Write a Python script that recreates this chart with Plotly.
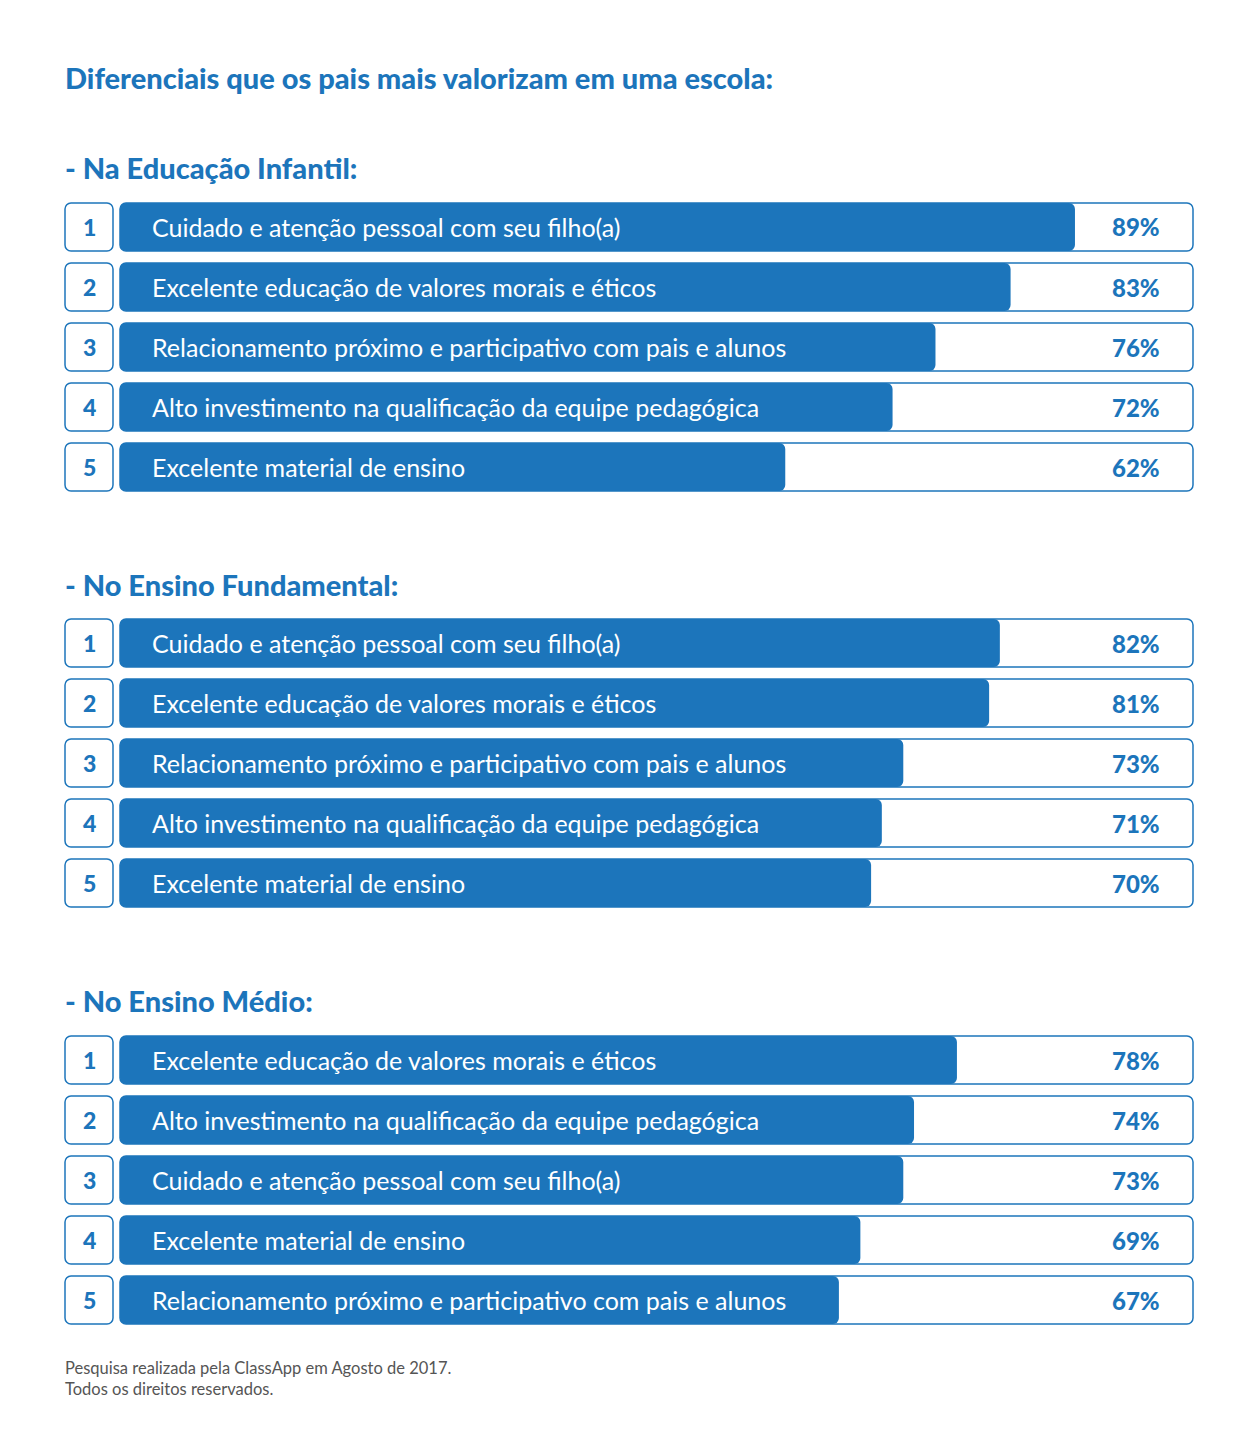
import plotly.graph_objects as go

W, H = 1251, 1449
BLUE = "#1c75bb"

title = "Diferenciais que os pais mais valorizam em uma escola:"
section_titles = ["- Na Educação Infantil:", "- No Ensino Fundamental:", "- No Ensino Médio:"]
ranks = ["1", "2", "3", "4", "5"]

infantil_labels = [
    "Cuidado e atenção pessoal com seu filho(a)",
    "Excelente educação de valores morais e éticos",
    "Relacionamento próximo e participativo com pais e alunos",
    "Alto investimento na qualificação da equipe pedagógica",
    "Excelente material de ensino",
]
infantil_values = [89, 83, 76, 72, 62]

fundamental_labels = [
    "Cuidado e atenção pessoal com seu filho(a)",
    "Excelente educação de valores morais e éticos",
    "Relacionamento próximo e participativo com pais e alunos",
    "Alto investimento na qualificação da equipe pedagógica",
    "Excelente material de ensino",
]
fundamental_values = [82, 81, 73, 71, 70]

medio_labels = [
    "Excelente educação de valores morais e éticos",
    "Alto investimento na qualificação da equipe pedagógica",
    "Cuidado e atenção pessoal com seu filho(a)",
    "Excelente material de ensino",
    "Relacionamento próximo e participativo com pais e alunos",
]
medio_values = [78, 74, 73, 69, 67]

footnote = "Pesquisa realizada pela ClassApp em Agosto de 2017.<br>Todos os direitos reservados."

sections = [
    (infantil_labels, infantil_values),
    (fundamental_labels, fundamental_values),
    (medio_labels, medio_values),
]

# layout in pixels
slot_tops = [197, 613, 1030]
slot_h = 300
heading_y = [168, 584, 1000]
RADIUS = 6

def py(p):
    return 1 - p / H

fig = go.Figure()
annotations = []

bar_x0, bar_x1 = 120, 1193
ppu = (bar_x1 - bar_x0) / 100.0
pad = 1.5
box_x0, box_x1 = 65, 113

for s, (labels, values) in enumerate(sections):
    yname = "y" if s == 0 else f"y{s+1}"
    pos = list(range(len(ranks)))
    zero = [0] * len(ranks)
    # container outlines (0-100%) -- explicit base => floating bar, all corners rounded
    fig.add_trace(go.Bar(
        x=[100] * 5, base=zero, y=pos, orientation="h", xaxis="x", yaxis=yname,
        marker=dict(color="white", line=dict(color=BLUE, width=1.5), cornerradius=RADIUS),
        width=0.8, hoverinfo="skip", showlegend=False,
    ))
    # value bars
    fig.add_trace(go.Bar(
        x=values, base=zero, y=pos, orientation="h", xaxis="x", yaxis=yname,
        marker=dict(color=BLUE, line=dict(width=0), cornerradius=RADIUS),
        width=0.8, showlegend=False, customdata=labels,
        hovertemplate="%{customdata}: %{x}%<extra></extra>",
    ))
    # rank boxes
    fig.add_trace(go.Bar(
        x=[1] * 5, base=zero, y=pos, orientation="h", xaxis="x2", yaxis=yname,
        marker=dict(color="white", line=dict(color=BLUE, width=1.5), cornerradius=RADIUS),
        width=0.8, hoverinfo="skip", showlegend=False,
    ))
    for i, (r, lab, v) in enumerate(zip(ranks, labels, values)):
        annotations.append(dict(
            x=0, y=i, xref="x", yref=yname, text=lab, showarrow=False,
            xanchor="left", xshift=30,
            font=dict(family="Lato", size=25, color="white"),
        ))
        annotations.append(dict(
            x=100, y=i, xref="x", yref=yname, text=f"{v}%", showarrow=False,
            xanchor="right", xshift=-31,
            font=dict(family="Lato", size=24, color=BLUE, weight=900),
        ))
        annotations.append(dict(
            x=0.5, y=i, xref="x2", yref=yname, text=r, showarrow=False,
            xanchor="center",
            font=dict(family="Lato", size=23, color=BLUE, weight=900),
        ))
    annotations.append(dict(
        x=63 / W, y=py(heading_y[s]), xref="paper", yref="paper",
        text=section_titles[s], showarrow=False, xanchor="left", yanchor="middle",
        font=dict(family="Lato", size=29, color=BLUE, weight=900),
    ))

annotations.append(dict(
    x=63 / W, y=py(77), xref="paper", yref="paper", text=title, showarrow=False,
    xanchor="left", yanchor="middle",
    font=dict(family="Lato", size=29, color=BLUE, weight=900),
))
annotations.append(dict(
    x=63 / W, y=py(1378), xref="paper", yref="paper", text=footnote, showarrow=False,
    xanchor="left", yanchor="middle", align="left",
    font=dict(family="Lato", size=16.5, color="#555555"),
))

axis_common = dict(showgrid=False, zeroline=False, showticklabels=False, showline=False, ticks="")

layout = dict(
    width=W, height=H, margin=dict(l=0, r=0, t=0, b=0),
    paper_bgcolor="white", plot_bgcolor="rgba(0,0,0,0)",
    barmode="overlay", bargap=0.2,
    annotations=annotations,
    xaxis=dict(domain=[(bar_x0 - pad) / W, (bar_x1 + pad) / W],
               range=[-pad / ppu, 100 + pad / ppu], anchor="y", **axis_common),
    xaxis2=dict(domain=[(box_x0 - pad) / W, (box_x1 + pad) / W],
                range=[-pad / (box_x1 - box_x0), 1 + pad / (box_x1 - box_x0)],
                anchor="y", **axis_common),
)
for s in range(3):
    key = "yaxis" if s == 0 else f"yaxis{s+1}"
    top = slot_tops[s]
    layout[key] = dict(
        domain=[py(top + slot_h), py(top)], type="linear",
        range=[4.5, -0.5], anchor="x", **axis_common,
    )

fig.update_layout(**layout)
fig.write_html("out.html", config={"displayModeBar": False},
               post_script="document.body.style.margin='0';")
